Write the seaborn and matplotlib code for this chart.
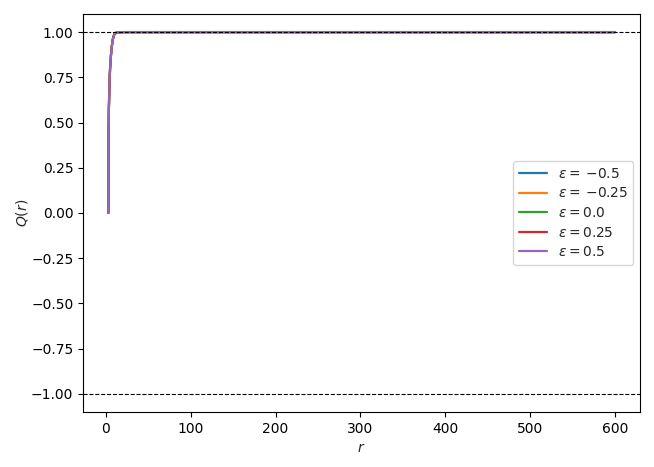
import matplotlib
matplotlib.use("Agg")
import matplotlib.pyplot as plt
import seaborn as sns
import pandas as pd

epsilons = [-0.5, -0.25, 0.0, 0.25, 0.5]
r_values = [3.0, 3.1, 3.3, 3.6, 4.0, 4.5, 5.0, 6.0, 7.0, 8.0, 9.0, 10.0, 12.0, 15.0, 20.0, 50.0, 100.0, 200.0, 400.0, 600.0]
q_eps_m05 = [0.0, 0.28, 0.47, 0.58, 0.66, 0.74, 0.80, 0.87, 0.92, 0.955, 0.975, 0.987, 0.996, 0.999, 1.0, 1.0, 1.0, 1.0, 1.0, 1.0]
q_eps_m025 = [0.0, 0.28, 0.47, 0.58, 0.66, 0.74, 0.80, 0.87, 0.92, 0.955, 0.975, 0.987, 0.996, 0.999, 1.0, 1.0, 1.0, 1.0, 1.0, 1.0]
q_eps_0 = [0.0, 0.28, 0.47, 0.58, 0.66, 0.74, 0.80, 0.87, 0.92, 0.955, 0.975, 0.987, 0.996, 0.999, 1.0, 1.0, 1.0, 1.0, 1.0, 1.0]
q_eps_p025 = [0.0, 0.28, 0.47, 0.58, 0.66, 0.74, 0.80, 0.87, 0.92, 0.955, 0.975, 0.987, 0.996, 0.999, 1.0, 1.0, 1.0, 1.0, 1.0, 1.0]
q_eps_p05 = [0.0, 0.28, 0.47, 0.58, 0.66, 0.74, 0.80, 0.87, 0.92, 0.955, 0.975, 0.987, 0.996, 0.999, 1.0, 1.0, 1.0, 1.0, 1.0, 1.0]
series = [q_eps_m05, q_eps_m025, q_eps_0, q_eps_p025, q_eps_p05]
y_ticks = [-1.0, -0.75, -0.5, -0.25, 0.0, 0.25, 0.5, 0.75, 1.0]


def eps_label(eps):
    if eps < 0:
        return r"$\varepsilon =\:{-}%s$" % abs(eps)
    return r"$\varepsilon = %s$" % eps


rows = []
for eps, qs in zip(epsilons, series):
    label = eps_label(eps)
    for r, q in zip(r_values, qs):
        rows.append({"r": r, "Q": q, "eps": label})
df = pd.DataFrame(rows)

sns.set_style("ticks")
plt.rcParams["font.family"] = ["DejaVu Sans"]
plt.rcParams["mathtext.fontset"] = "dejavusans"
plt.rcParams["axes.unicode_minus"] = True

fig, ax = plt.subplots(figsize=(6.54, 4.67), dpi=100)
fig.subplots_adjust(left=0.127, right=0.979, top=0.970, bottom=0.118)

sns.lineplot(data=df, x="r", y="Q", hue="eps", palette="tab10", ax=ax,
             linewidth=1.6, estimator=None, sort=False)
ax.axhline(1.0, color="black", linestyle="--", linewidth=0.8)
ax.axhline(-1.0, color="black", linestyle="--", linewidth=0.8)

ax.set_yticks(y_ticks)
ax.set_yticklabels([("%.2f" % t).replace("-", "\u2212") for t in y_ticks])
ax.set_xlabel("$r$")
ax.set_ylabel("$Q(r)$")
ax.yaxis.set_label_coords(-0.095, 0.5)
for s in ax.spines.values():
    s.set_visible(True)
    s.set_color("black")
ax.tick_params(colors="black", direction="out")
leg = ax.legend(loc="center right", title=None, labelspacing=0.4)
fig.savefig("out.png", dpi=100)
